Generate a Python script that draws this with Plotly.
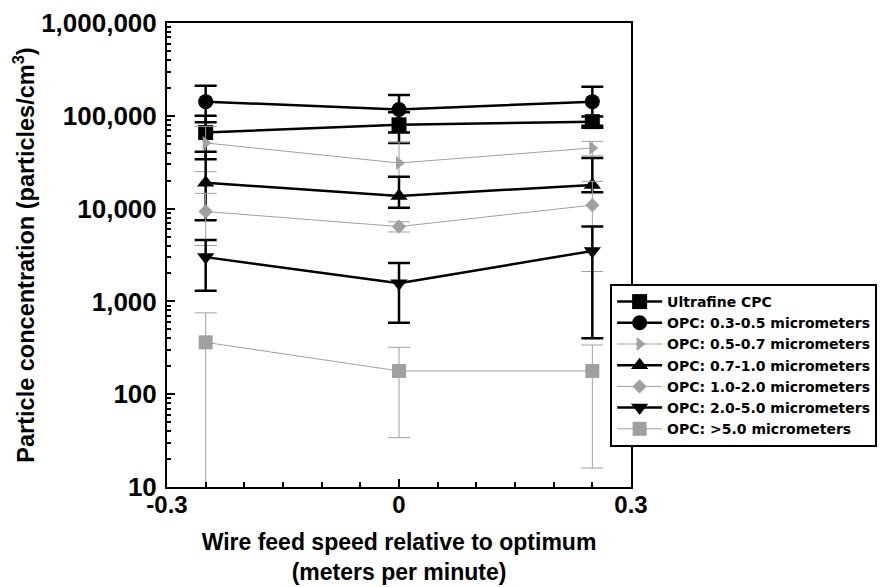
import plotly.graph_objects as go

# ---- data ----
x_speed = [-0.25, 0.0, 0.25]

cpc = [66000, 80000, 86500]
cpc_plus = [34000, 29000, 12000]
cpc_minus = [32000, 29000, 12000]

opc_03_05 = [142000, 117000, 142000]
opc_03_05_plus = [69000, 51000, 64000]
opc_03_05_minus = [57000, 51000, 64000]

opc_05_07 = [51000, 31000, 45000]
opc_05_07_plus = [26000, 21000, 8000]
opc_05_07_minus = [26000, 21000, 8000]

opc_07_10 = [19000, 13700, 18000]
opc_07_10_plus = [22000, 8300, 17000]
opc_07_10_minus = [11500, 3500, 3000]

opc_10_20 = [9300, 6400, 10900]
opc_10_20_plus = [5300, 800, 8800]
opc_10_20_minus = [5300, 800, 8800]

opc_20_50 = [3000, 1570, 3500]
opc_20_50_plus = [1600, 1030, 2900]
opc_20_50_minus = [1700, 980, 3100]

opc_gt50 = [362, 178, 178]
opc_gt50_plus = [390, 142, 161]
opc_gt50_minus = [400, 144, 162]

y_tickvals = [10, 100, 1000, 10000, 100000, 1000000]
y_ticktext = ["10", "100", "1,000", "10,000", "100,000", "1,000,000"]
x_tickvals = [-0.3, 0, 0.3]
x_ticktext = ["-0.3", "0", "0.3"]
x_minor_ticks = [-0.25, -0.2, -0.15, -0.1, -0.05, 0.05, 0.1, 0.15, 0.2, 0.25]
y_minor_ticks = [m * 10 ** k for k in range(1, 6) for m in range(2, 10)]

BLACK = "#000000"
GRAY = "#a0a0a0"
FONT = "Liberation Sans, Arial, sans-serif"
LEG_FONT = "DejaVu Sans, sans-serif"

series = [
    ("Ultrafine CPC", cpc, cpc_plus, cpc_minus, "square", 15, BLACK, 2.5, True),
    ("OPC: 0.3-0.5 micrometers", opc_03_05, opc_03_05_plus, opc_03_05_minus, "circle", 15, BLACK, 2.5, True),
    ("OPC: 0.5-0.7 micrometers", opc_05_07, opc_05_07_plus, opc_05_07_minus, "triangle-right", 12, GRAY, 1, False),
    ("OPC: 0.7-1.0 micrometers", opc_07_10, opc_07_10_plus, opc_07_10_minus, "triangle-up", 15, BLACK, 2.5, True),
    ("OPC: 1.0-2.0 micrometers", opc_10_20, opc_10_20_plus, opc_10_20_minus, "diamond", 11, GRAY, 1, False),
    ("OPC: 2.0-5.0 micrometers", opc_20_50, opc_20_50_plus, opc_20_50_minus, "triangle-down", 15, BLACK, 2.5, True),
    ("OPC: >5.0 micrometers", opc_gt50, opc_gt50_plus, opc_gt50_minus, "square", 14, GRAY, 1, False),
]

fig = go.Figure()
for name, vals, plus, minus, sym, size, col, lw, dark in series:
    fig.add_trace(go.Scatter(
        x=x_speed, y=vals, name=name, mode="lines+markers",
        line=dict(color=col, width=lw),
        marker=dict(symbol=sym, size=size, color=col, line=dict(width=0)),
        error_y=dict(type="data", symmetric=False, array=plus, arrayminus=minus,
                     color=col, thickness=(2.5 if dark else 1), width=11),
    ))

# page body has an 8px margin, so the figure is 8px smaller on each axis
fig.update_layout(
    width=886, height=579,
    margin=dict(l=159, r=263, t=15, b=100, autoexpand=False),
    paper_bgcolor="white", plot_bgcolor="white",
    font=dict(family=FONT, color="black", weight="bold"),
    showlegend=True,
    legend=dict(
        x=0.955, y=0.4375, xanchor="left", yanchor="top",
        bgcolor="white", bordercolor="black", borderwidth=2,
        font=dict(family=LEG_FONT, size=14, color="black", weight="bold"),
        tracegroupgap=0, itemwidth=45,
    ),
)

fig.update_xaxes(
    range=[-0.3, 0.3], tickmode="array", tickvals=x_tickvals, ticktext=x_ticktext,
    ticks="inside", ticklen=8, tickwidth=2, tickcolor="black",
    minor=dict(tickmode="array", tickvals=x_minor_ticks, ticks="inside", ticklen=5,
               tickwidth=2, tickcolor="black", showgrid=False),
    showline=True, linecolor="black", linewidth=2, mirror=True,
    showgrid=False, zeroline=False, automargin=False, ticklabelstandoff=-5,
    tickfont=dict(family=FONT, size=24, color="black", weight="bold"),
    title=dict(text="Wire feed speed relative to optimum<br>(meters per minute)",
               font=dict(family=FONT, size=23, color="black", weight="bold"), standoff=17),
)

fig.update_yaxes(
    type="log", range=[1, 6], tickmode="array", tickvals=y_tickvals, ticktext=y_ticktext,
    ticks="inside", ticklen=8, tickwidth=2, tickcolor="black",
    minor=dict(tickmode="array", tickvals=y_minor_ticks, ticks="inside", ticklen=4,
               tickwidth=1.5, tickcolor="black", showgrid=False),
    showline=True, linecolor="black", linewidth=2, mirror=True,
    showgrid=False, zeroline=False, automargin=False, ticklabelstandoff=3,
    tickfont=dict(family=FONT, size=26, color="black", weight="bold"),
    title=dict(text="Particle concentration (particles/cm<sup>3</sup>)",
               font=dict(family=FONT, size=23.5, color="black", weight="bold"), standoff=0),
)

fig.write_html("out.html")
